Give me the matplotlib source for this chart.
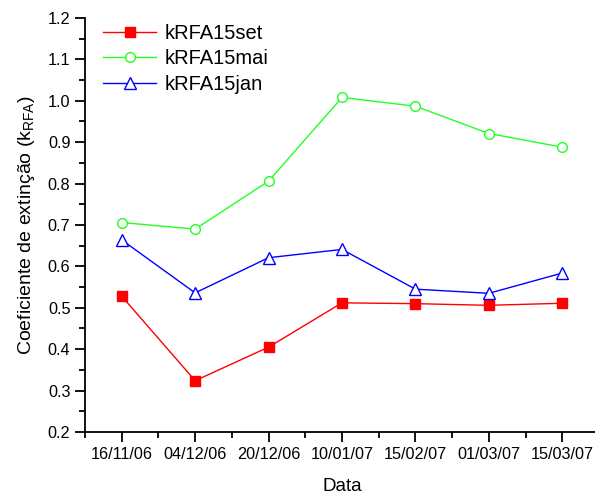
import matplotlib
matplotlib.use('Agg')
import matplotlib.pyplot as plt
from matplotlib.ticker import MultipleLocator

plt.rcParams['font.family'] = ['Liberation Sans', 'DejaVu Sans']

# data
datas = ['16/11/06', '04/12/06', '20/12/06', '10/01/07', '15/02/07', '01/03/07', '15/03/07']
k_set = [0.528, 0.324, 0.405, 0.512, 0.510, 0.506, 0.511]
k_mai = [0.706, 0.690, 0.806, 1.008, 0.987, 0.921, 0.888]
k_jan = [0.664, 0.536, 0.621, 0.641, 0.545, 0.535, 0.584]

x = list(range(1, len(datas) + 1))

fig = plt.figure(figsize=(5.95, 4.94), dpi=100)
ax = fig.add_axes([85 / 595, 62 / 494, 514 / 595, 414 / 494])

ax.plot(x, k_set, color='#ff0000', lw=1, marker='s', ms=6.5,
        mfc='#ff0000', mec='#ff0000', label='kRFA15set')
ax.plot(x, k_mai, color='#22ff22', lw=1, marker='o', ms=7,
        mfc='white', mec='#22ff22', mew=1, label='kRFA15mai')
ax.plot(x, k_jan, color='#0000ff', lw=1, marker='^', ms=8.5,
        mfc='white', mec='#0000ff', mew=1, label='kRFA15jan')

ax.set_xlim(0.5, 7.5)
ax.set_ylim(0.2, 1.2)
ax.set_xticks(x)
ax.set_xticklabels(datas)
ax.xaxis.set_minor_locator(MultipleLocator(0.5))
ax.yaxis.set_major_locator(MultipleLocator(0.1))
ax.yaxis.set_minor_locator(MultipleLocator(0.05))
ax.yaxis.set_major_formatter(matplotlib.ticker.FormatStrFormatter('%.1f'))

for side in ['top', 'right']:
    ax.spines[side].set_visible(False)
for side in ['left', 'bottom']:
    ax.spines[side].set_linewidth(1.3)

ax.tick_params(which='major', direction='out', length=7, width=1.3, labelsize=11.7)
ax.tick_params(which='minor', direction='out', length=4, width=1.3)
ax.tick_params(axis='x', pad=4)

ax.set_xlabel('Data', fontsize=13.5, labelpad=11)
ax.set_ylabel('Coeficiente de extinção (k$_\\mathregular{RFA}$)', fontsize=14, labelpad=8)

ax.legend(loc='upper left', frameon=False, fontsize=14.5, handlelength=2.6,
          handletextpad=0.45, borderaxespad=0.0, labelspacing=0.32,
          bbox_to_anchor=(0.02, 1.005))

fig.savefig('out.png', dpi=100)
